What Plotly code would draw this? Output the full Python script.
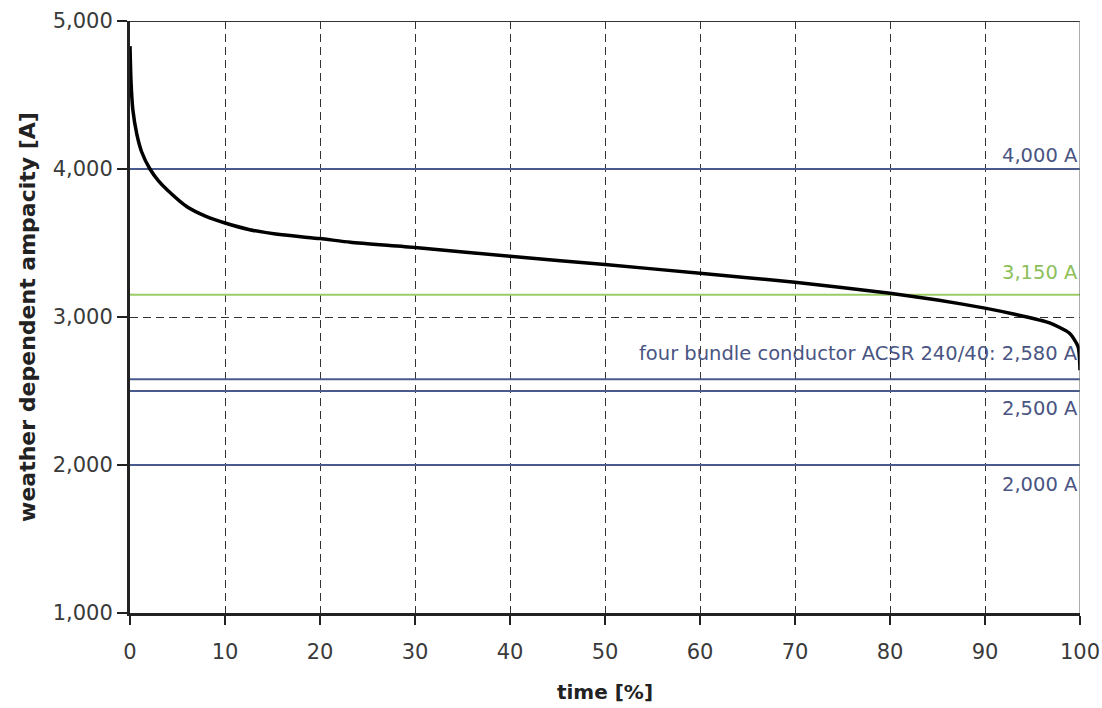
import plotly.graph_objects as go

# --- data ---
time_pct = [0, 0.1, 0.3, 0.7, 1.2, 2.1, 3.0, 3.9, 6.0, 8, 10, 12.6, 16, 20, 23.2,
            30, 40, 50, 60, 70, 80, 85, 90, 93, 96.8, 98.9, 99.8, 100]
ampacity = [4830, 4600, 4400, 4240, 4120, 4000, 3920, 3860, 3745, 3680, 3635, 3590,
            3555, 3530, 3505, 3470, 3410, 3355, 3295, 3235, 3160, 3115, 3060, 3020,
            2960, 2890, 2800, 2640]

ref_values = [4000, 3150, 2580, 2500, 2000]
ref_labels = ["4,000 A", "3,150 A", "four bundle conductor ACSR 240/40: 2,580 A",
              "2,500 A", "2,000 A"]

x_ticks = [0, 10, 20, 30, 40, 50, 60, 70, 80, 90, 100]
y_ticks = [1000, 2000, 3000, 4000, 5000]

# --- styles ---
ref_colors = ["#4a5a8c", "#9ccc65", "#4a5a8c", "#4a5a8c", "#4a5a8c"]
ref_label_colors = ["#4a5583", "#8cbf5a", "#4a5583", "#4a5583", "#4a5583"]
ref_label_anchor = ["bottom", "bottom", "bottom", "top", "top"]
ref_label_shift = [0, 9, 12, -4, -6]
FONT = "DejaVu Sans, Liberation Sans, Arial"

fig = go.Figure()

# reference lines
for v, c in zip(ref_values, ref_colors):
    fig.add_trace(go.Scatter(x=[x_ticks[0], x_ticks[-1]], y=[v, v], mode="lines",
                             line=dict(color=c, width=2), hoverinfo="skip",
                             showlegend=False))

# ampacity curve
fig.add_trace(go.Scatter(x=time_pct, y=ampacity, mode="lines",
                         line=dict(color="black", width=3.5, shape="spline", smoothing=0.6),
                         showlegend=False))

for v, lab, c, anc, sh in zip(ref_values, ref_labels, ref_label_colors,
                              ref_label_anchor, ref_label_shift):
    fig.add_annotation(x=x_ticks[-1], y=v, xref="x", yref="y", text=lab,
                       showarrow=False, xanchor="right", yanchor=anc, yshift=sh,
                       font=dict(size=19.5, color=c, family=FONT))

# top and right frame
fig.add_shape(type="line", xref="x", yref="y", x0=x_ticks[0], x1=x_ticks[-1],
              y0=y_ticks[-1], y1=y_ticks[-1], line=dict(color="#333333", width=2))
fig.add_shape(type="line", xref="x", yref="y", x0=x_ticks[-1], x1=x_ticks[-1],
              y0=y_ticks[0], y1=y_ticks[-1], line=dict(color="#777777", width=1.2))

fig.update_xaxes(range=[0, 100], tickvals=x_ticks, ticks="outside", ticklen=9,
                 tickwidth=2, tickcolor="#222", showline=True, linecolor="#222",
                 linewidth=3, showgrid=True, gridcolor="#333", griddash="8px,5px",
                 gridwidth=1.3, zeroline=False, automargin=False,
                 ticklabelstandoff=9,
                 tickfont=dict(size=21, color="#3a3a3a", family=FONT),
                 title=dict(text="<b>time [%]</b>",
                            font=dict(size=20, color="#222", family=FONT),
                            standoff=22))
fig.update_yaxes(range=[1000, 5000], tickvals=y_ticks, tickformat=",d",
                 ticks="outside", ticklen=10, tickwidth=2, tickcolor="#222",
                 showline=True, linecolor="#222", linewidth=3, showgrid=True,
                 gridcolor="#333", griddash="8px,5px", gridwidth=1.3, zeroline=False,
                 automargin=False,
                 tickfont=dict(size=21, color="#3a3a3a", family=FONT),
                 title=dict(text="<b>weather dependent ampacity [A]</b>",
                            font=dict(size=22, color="#222", family=FONT), standoff=11))

fig.update_layout(width=1102, height=708, margin=dict(l=130, r=22, t=21, b=95),
                  plot_bgcolor="white", paper_bgcolor="white",
                  font=dict(family=FONT, color="#333"))

fig.write_html("out.html")
